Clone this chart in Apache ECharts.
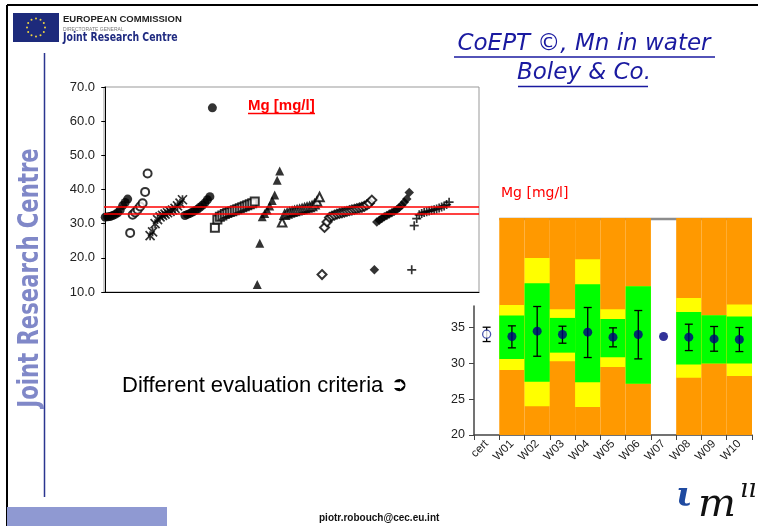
<!DOCTYPE html>
<html><head><meta charset="utf-8">
<script src="https://cdn.jsdelivr.net/npm/echarts@6/dist/echarts.min.js"></script>
<style>html,body{margin:0;padding:0;background:#fff}#c{width:758px;height:526px}</style>
</head><body><div id="c"></div>
<script>
// ---------- Left chart: sorted Mg results per participant group (mg/l) ----------
const g1FilledCircle   = [31.9, 32.0, 32.1, 32.4, 32.7, 33.2, 34.0, 35.3, 36.2, 37.2];
const g2OpenCircle     = [27.3, 32.6, 33.3, 34.1, 35.0, 36.0, 39.3, 44.7];
const g3Asterisk       = [26.5, 27.6, 30.0, 31.2, 32.0, 32.4, 32.8, 33.2, 33.6, 34.0, 34.5, 35.2, 36.0, 37.0];
const g4FilledCircle   = [32.4, 32.7, 33.0, 33.4, 33.8, 34.2, 34.8, 35.4, 36.1, 37.0, 37.9, 63.9];
const g5OpenSquare     = [28.8, 31.2, 32.0, 32.4, 32.8, 33.1, 33.4, 33.6, 33.9, 34.2, 34.5, 34.8, 35.1, 35.4, 35.7, 36.0, 36.5];
const g6FilledTriangle = [12.2, 24.3, 32.0, 33.0, 34.0, 35.2, 36.8, 38.4, 42.7, 45.4];
const g7OpenTriangle   = [30.4, 32.6, 33.0, 33.3, 33.5, 33.7, 33.9, 34.1, 34.3, 34.5, 34.7, 34.9, 35.2, 35.7, 36.5, 37.8];
const g8OpenDiamond    = [15.1, 28.9, 30.5, 31.8, 32.2, 32.5, 32.8, 33.0, 33.2, 33.4, 33.6, 33.8, 34.0, 34.2, 34.4, 34.6, 34.8, 35.1, 35.5, 36.0, 36.9];
const g9FilledDiamond  = [16.5, 30.5, 31.0, 31.5, 32.0, 32.4, 32.8, 33.2, 33.6, 34.1, 34.7, 35.4, 36.3, 37.2, 39.1];
const g10Plus          = [16.5, 29.4, 31.5, 32.6, 33.0, 33.3, 33.5, 33.7, 33.9, 34.1, 34.3, 34.6, 34.9, 35.2, 35.6, 36.3];
const limitLines = [33.0, 35.0];
const leftYMin = 10, leftYMax = 70, leftYStep = 10;

// ---------- Right chart: lab means, uncertainties and evaluation bands ----------
const labs       = ['cert', 'W01', 'W02', 'W03', 'W04', 'W05', 'W06', 'W07', 'W08', 'W09', 'W10'];
const certValue  = 34.07;
const labMeans   = [null, 33.74, 34.49, 34.02, 34.35, 33.65, 34.02, 33.74, 33.65, 33.41, 33.32];
const errLow     = [33.04, 32.16, 30.99, 32.81, 30.81, 32.30, 30.62, null, 31.78, 31.69, 31.64];
const errHigh    = [35.04, 35.23, 37.93, 35.18, 37.79, 34.95, 37.37, null, 35.46, 35.14, 35.00];
const yellowLow  = [null, 29.08, 24.00, 30.29, 23.91, 29.50, 27.17, null, 28.01, 29.97, 28.24];
const greenLow   = [null, 30.62, 27.45, 31.50, 27.36, 30.85, 27.17, null, 29.83, 29.97, 29.97];
const greenHigh  = [null, 36.67, 41.19, 36.35, 41.05, 36.21, 40.77, null, 37.19, 36.72, 36.53];
const yellowHigh = [null, 38.16, 44.73, 37.56, 44.55, 37.56, 40.77, null, 39.14, 36.72, 38.21];
const bandBottom = 20, bandTop = 50.3;
const rightTicks = [20, 25, 30, 35];
const rightYMax = 38;

// ---------- build left series ----------
const groups = [
  {v: g1FilledCircle,   symbol: 'circle',        size: 9,   filled: true},
  {v: g2OpenCircle,     symbol: 'emptyCircle',   size: 8,   filled: false},
  {v: g3Asterisk,       symbol: 'path://M0,0L10,10M10,0L0,10M5,0L5,10', size: 9, stroke: true},
  {v: g4FilledCircle,   symbol: 'circle',        size: 9,   filled: true},
  {v: g5OpenSquare,     symbol: 'emptyRect',     size: 8,   filled: false},
  {v: g6FilledTriangle, symbol: 'triangle',      size: 9,   filled: true},
  {v: g7OpenTriangle,   symbol: 'emptyTriangle', size: 8.5, filled: false},
  {v: g8OpenDiamond,    symbol: 'emptyDiamond',  size: 9,   filled: false},
  {v: g9FilledDiamond,  symbol: 'diamond',       size: 9.5, filled: true},
  {v: g10Plus,          symbol: 'path://M5,0L5,10M0,5L10,5', size: 9, stroke: true}
];
let idx = 0;
const leftSeries = groups.map(g => {
  const data = g.v.map(val => [idx++, val]);
  let itemStyle;
  if (g.stroke) itemStyle = {color: 'none', borderColor: '#000', borderWidth: 1.7};
  else if (g.filled) itemStyle = {color: '#000'};
  else itemStyle = {color: '#000', borderWidth: 2};
  return {type: 'scatter', xAxisIndex: 0, yAxisIndex: 0, symbol: g.symbol, symbolSize: g.size,
          itemStyle, data, z: 3, silent: true};
});
const leftMax = idx + 11; // room at right of the plot

// red reference lines (under the markers)
leftSeries.push({
  type: 'scatter', xAxisIndex: 0, yAxisIndex: 0, data: [], z: 1, silent: true,
  markLine: {silent: true, symbol: ['none', 'none'], label: {show: false},
    lineStyle: {color: '#ff0000', width: 1.5, type: 'solid'},
    data: limitLines.map(v => ({yAxis: v}))}
});

// ---------- right series ----------
const bandData = [];
labs.forEach((l, i) => { if (greenLow[i] != null) bandData.push([i, yellowLow[i], greenLow[i], greenHigh[i], yellowHigh[i]]); });
const errData = [];
labs.forEach((l, i) => { if (errLow[i] != null) errData.push([i, errLow[i], errHigh[i]]); });
const meanData = [];
labs.forEach((l, i) => { if (labMeans[i] != null) meanData.push([i, labMeans[i]]); });

const rightSeries = [
  { // grey frame top line behind the bands
    type: 'custom', xAxisIndex: 1, yAxisIndex: 1, z: 1, silent: true,
    data: [[1, labs.length - 1]],
    renderItem(params, api) {
      const w = api.size([1, 0])[0];
      const a = api.coord([api.value(0), bandTop]);
      const b = api.coord([api.value(1), bandTop]);
      return {type: 'line', shape: {x1: a[0] - w / 2, y1: a[1] + 1, x2: b[0] + w / 2, y2: b[1] + 1},
              style: {stroke: '#8c8c8c', lineWidth: 2.5}};
    }
  },
  { // evaluation bands
    type: 'custom', xAxisIndex: 1, yAxisIndex: 1, z: 2, silent: true,
    data: bandData,
    renderItem(params, api) {
      const i = api.value(0);
      const w = api.size([1, 0])[0];
      const rect = (lo, hi, color) => {
        const t = api.coord([i, hi]), b = api.coord([i, lo]);
        return {type: 'rect', shape: {x: t[0] - w / 2, y: t[1], width: w, height: b[1] - t[1]},
                style: {fill: color}};
      };
      return {type: 'group', children: [
        rect(bandBottom, bandTop, '#ff9900'),
        rect(api.value(1), api.value(4), '#ffff00'),
        rect(api.value(2), api.value(3), '#00ff00')
      ]};
    }
  },
  { // error bars
    type: 'custom', xAxisIndex: 2, yAxisIndex: 2, z: 4, silent: true,
    data: errData,
    renderItem(params, api) {
      const i = api.value(0);
      const a = api.coord([i, api.value(2)]), b = api.coord([i, api.value(1)]);
      const c = 4, st = {stroke: '#000', lineWidth: 1.3};
      return {type: 'group', children: [
        {type: 'line', shape: {x1: a[0], y1: a[1], x2: b[0], y2: b[1]}, style: st},
        {type: 'line', shape: {x1: a[0] - c, y1: a[1], x2: a[0] + c, y2: a[1]}, style: st},
        {type: 'line', shape: {x1: b[0] - c, y1: b[1], x2: b[0] + c, y2: b[1]}, style: st}
      ]};
    }
  },
  { // lab means
    type: 'scatter', xAxisIndex: 2, yAxisIndex: 2, z: 5, silent: true,
    symbol: 'circle', symbolSize: 9, itemStyle: {color: '#000080'}, data: meanData
  },
  { // certified value
    type: 'scatter', xAxisIndex: 2, yAxisIndex: 2, z: 5, silent: true,
    symbol: 'circle', symbolSize: 8, itemStyle: {color: '#ffffff', borderColor: '#1b2a99', borderWidth: 1.3},
    data: [[0, certValue]]
  }
];

// ---------- slide decoration ----------
const font = (s, w, f, st) => `${st || 'normal'} ${w || 'normal'} ${s}px ${f || '"Liberation Sans", Arial, sans-serif'}`;
const narrow = '"Liberation Sans Narrow", "DejaVu Sans Condensed", sans-serif';
const graphics = [
  {type: 'line', shape: {x1: 7, y1: 5, x2: 758, y2: 5}, style: {stroke: '#000', lineWidth: 2}},
  {type: 'line', shape: {x1: 7, y1: 5, x2: 7, y2: 526}, style: {stroke: '#000', lineWidth: 2}},
  {type: 'line', shape: {x1: 44.5, y1: 53, x2: 44.5, y2: 497}, style: {stroke: '#2b3590', lineWidth: 1.5}},
  {type: 'rect', shape: {x: 13, y: 13, width: 46, height: 29}, style: {fill: '#1d2a7b'}},
  {type: 'text', x: 63, y: 19, style: {text: 'EUROPEAN COMMISSION', font: font(9.5, 'bold'), fill: '#222', verticalAlign: 'middle'}},
  {type: 'text', x: 63, y: 29.5, style: {text: 'DIRECTORATE GENERAL', font: font(5), fill: '#777', verticalAlign: 'middle'}},
  {type: 'text', x: 63, y: 37.5, scaleX: 0.8, style: {text: 'Joint Research Centre', font: font(13, 'bold', narrow), fill: '#1f2a80', verticalAlign: 'middle'}},
  {type: 'text', x: 31, y: 278, rotation: Math.PI / 2, scaleX: 0.84, style: {text: 'Joint Research Centre', font: font(28, 'bold', narrow), fill: '#8088c8', align: 'center', verticalAlign: 'middle'}},
  {type: 'text', x: 584, y: 44, style: {text: 'CoEPT ©, Mn in water', font: font(23, 'normal', '"DejaVu Sans", sans-serif', 'italic'), fill: '#1a1aa0', align: 'center', verticalAlign: 'middle'}},
  {type: 'line', shape: {x1: 454, y1: 57, x2: 715, y2: 57}, style: {stroke: '#1a1aa0', lineWidth: 1.5}},
  {type: 'text', x: 584, y: 73, style: {text: 'Boley & Co.', font: font(23, 'normal', '"DejaVu Sans", sans-serif', 'italic'), fill: '#1a1aa0', align: 'center', verticalAlign: 'middle'}},
  {type: 'line', shape: {x1: 518, y1: 86.5, x2: 648, y2: 86.5}, style: {stroke: '#1a1aa0', lineWidth: 1.5}},
  {type: 'text', x: 248, y: 106, style: {text: 'Mg [mg/l]', font: font(15, 'bold'), fill: '#ff0000', verticalAlign: 'middle'}},
  {type: 'line', shape: {x1: 248, y1: 113.5, x2: 315, y2: 113.5}, style: {stroke: '#ff0000', lineWidth: 1.5}},
  {type: 'text', x: 501, y: 193, style: {text: 'Mg [mg/l]', font: font(14, 'normal', '"DejaVu Sans", sans-serif'), fill: '#ff0000', verticalAlign: 'middle'}},
  {type: 'text', x: 122, y: 386, style: {text: 'Different evaluation criteria', font: font(22), fill: '#000', verticalAlign: 'middle'}},
  {type: 'text', x: 391, y: 386, style: {text: '➲', font: font(20, 'normal', '"DejaVu Sans", sans-serif'), fill: '#000', verticalAlign: 'middle'}},
  {type: 'rect', shape: {x: 7, y: 507, width: 160, height: 19}, style: {fill: '#8f99d2'}},
  {type: 'text', x: 319, y: 518, style: {text: 'piotr.robouch@cec.eu.int', font: font(10, 'bold'), fill: '#111', verticalAlign: 'middle'}},
  {type: 'text', x: 676, y: 497, style: {text: 'ι', font: font(34, 'bold', '"DejaVu Serif", serif', 'italic'), fill: '#1f4aa0', verticalAlign: 'middle'}},
  {type: 'text', x: 698, y: 506, style: {text: 'm', font: font(40, 'normal', '"DejaVu Serif", serif', 'italic'), fill: '#111', verticalAlign: 'middle'}},
  {type: 'text', x: 740, y: 490, style: {text: 'ıı', font: font(26, 'normal', '"DejaVu Serif", serif', 'italic'), fill: '#111', verticalAlign: 'middle'}}
];
for (let k = 0; k < 12; k++) {
  const a = k * Math.PI / 6;
  graphics.push({type: 'circle', shape: {cx: 36 + 9 * Math.cos(a), cy: 27.5 + 9 * Math.sin(a), r: 1}, style: {fill: '#f0d640'}});
}

const axisText = {color: '#222', fontFamily: '"Liberation Sans", Arial, sans-serif'};
const chart = echarts.init(document.getElementById('c'), null, {renderer: 'canvas'});
chart.setOption({
  animation: false,
  backgroundColor: '#fff',
  grid: [
    {left: 104, right: 279, top: 87, bottom: 234, show: true, borderColor: '#999', borderWidth: 1, backgroundColor: 'transparent'},
    {left: 474, right: 6, top: 218, bottom: 91},
    {left: 474, right: 6, top: 306, bottom: 91}
  ],
  xAxis: [
    {gridIndex: 0, type: 'value', min: -0.5, max: leftMax, axisLabel: {show: false}, axisTick: {show: false},
     splitLine: {show: false}, axisLine: {lineStyle: {color: '#000', width: 1}}},
    {gridIndex: 1, type: 'category', data: labs, show: false},
    {gridIndex: 2, type: 'category', data: labs, boundaryGap: true,
     axisLine: {lineStyle: {color: '#444', width: 1.5}},
     axisTick: {show: true, length: 5, interval: 0, lineStyle: {color: '#444'}},
     axisLabel: Object.assign({rotate: 45, fontSize: 11.5, margin: 7, interval: 0}, axisText)}
  ],
  yAxis: [
    {gridIndex: 0, type: 'value', min: leftYMin, max: leftYMax, interval: leftYStep,
     axisLine: {show: true, lineStyle: {color: '#000', width: 1}},
     axisTick: {show: true, length: 4, lineStyle: {color: '#000'}},
     splitLine: {show: false},
     axisLabel: Object.assign({fontSize: 13, margin: 9, formatter: v => v.toFixed(1)}, axisText)},
    {gridIndex: 1, type: 'value', min: bandBottom, max: bandTop, show: false, splitLine: {show: false}},
    {gridIndex: 2, type: 'value', min: bandBottom, max: rightYMax,
     axisLine: {show: true, lineStyle: {color: '#444', width: 1.5}},
     axisTick: {show: true, length: 5, customValues: rightTicks, lineStyle: {color: '#444'}},
     splitLine: {show: false},
     axisLabel: Object.assign({fontSize: 12.5, margin: 9, customValues: rightTicks}, axisText)}
  ],
  graphic: {elements: graphics},
  series: leftSeries.concat(rightSeries)
});
</script></body></html>
